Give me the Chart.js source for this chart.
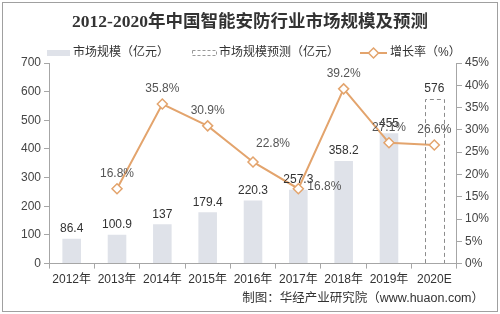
<!DOCTYPE html>
<html>
<head>
<meta charset="utf-8">
<script src="https://cdn.jsdelivr.net/npm/chart.js@4.4.1/dist/chart.umd.min.js"></script>
<style>
  html, body { margin: 0; padding: 0; background: #fff; }
  #grafico { display: block; }
</style>
</head>
<body>
<canvas id="grafico" width="500" height="314"></canvas>
<script>
const anos = ['2012年', '2013年', '2014年', '2015年', '2016年', '2017年', '2018年', '2019年', '2020E'];
const mercado = [86.4, 100.9, 137, 179.4, 220.3, 257.3, 358.2, 455, null];
const previsao = [null, null, null, null, null, null, null, null, 576];
const crescimento = [null, 16.8, 35.8, 30.9, 22.8, 16.8, 39.2, 27.1, 26.6];

const titulo = '2012-2020年中国智能安防行业市场规模及预测';
const legendas = ['市场规模（亿元）', '市场规模预测（亿元）', '增长率（%）'];
const fonte = '制图：华经产业研究院（www.huaon.com）';

const laranja = '#e3a46d';
const cinzaBarra = '#dfe2e9';
const textoFonte = '"Liberation Sans", "Noto Sans CJK SC", sans-serif';

const decoracao = {
  id: 'decoracao',
  beforeDraw(chart) {
    const ctx = chart.ctx;
    ctx.save();
    // moldura
    ctx.strokeStyle = '#a0a0a0';
    ctx.lineWidth = 1;
    ctx.strokeRect(2.5, 2.5, 495, 309);

    // titulo
    ctx.fillStyle = '#333';
    ctx.font = 'bold 17.5px "Liberation Serif", "Noto Sans CJK SC", serif';
    ctx.textAlign = 'center';
    ctx.textBaseline = 'middle';
    ctx.fillText(titulo, 250, 22);

    // legenda
    ctx.font = '12px ' + textoFonte;
    ctx.textAlign = 'left';
    ctx.fillStyle = cinzaBarra;
    ctx.fillRect(47, 50, 23, 6);
    ctx.fillStyle = '#333';
    ctx.fillText(legendas[0], 73, 53);

    ctx.setLineDash([3, 2]);
    ctx.strokeStyle = '#999';
    ctx.strokeRect(192.5, 50.5, 24, 5);
    ctx.setLineDash([]);
    ctx.fillText(legendas[1], 219, 53);

    ctx.strokeStyle = laranja;
    ctx.lineWidth = 2;
    ctx.beginPath();
    ctx.moveTo(360, 53);
    ctx.lineTo(387, 53);
    ctx.stroke();
    ctx.fillStyle = '#fff';
    ctx.beginPath();
    ctx.moveTo(373.5, 48);
    ctx.lineTo(378.5, 53);
    ctx.lineTo(373.5, 58);
    ctx.lineTo(368.5, 53);
    ctx.closePath();
    ctx.fill();
    ctx.lineWidth = 1.5;
    ctx.stroke();
    ctx.fillStyle = '#333';
    ctx.fillText(legendas[2], 390, 53);

    // fonte
    ctx.font = '12.5px ' + textoFonte;
    ctx.textAlign = 'right';
    ctx.fillText(fonte, 484, 299);
    ctx.restore();
  },
  afterDatasetsDraw(chart) {
    const ctx = chart.ctx;
    ctx.save();

    // barra prevista tracejada
    const metaPrev = chart.getDatasetMeta(1);
    metaPrev.data.forEach((el, i) => {
      if (previsao[i] == null) return;
      const p = el.getProps(['x', 'y', 'width', 'base'], true);
      ctx.setLineDash([4, 3]);
      ctx.strokeStyle = '#8c8c8c';
      ctx.lineWidth = 1;
      ctx.beginPath();
      ctx.moveTo(Math.round(p.x - p.width / 2) + 0.5, p.base);
      ctx.lineTo(Math.round(p.x - p.width / 2) + 0.5, Math.round(p.y) + 0.5);
      ctx.lineTo(Math.round(p.x + p.width / 2) + 0.5, Math.round(p.y) + 0.5);
      ctx.lineTo(Math.round(p.x + p.width / 2) + 0.5, p.base);
      ctx.stroke();
      ctx.setLineDash([]);
    });

    // rotulos das barras
    ctx.font = '12px ' + textoFonte;
    ctx.fillStyle = '#333';
    ctx.textAlign = 'center';
    ctx.textBaseline = 'bottom';
    [0, 1].forEach(d => {
      const valores = d === 0 ? mercado : previsao;
      chart.getDatasetMeta(d).data.forEach((el, i) => {
        if (valores[i] == null) return;
        ctx.fillText(String(valores[i]), el.x, el.y - 4);
      });
    });

    // rotulos do crescimento
    ctx.font = '12px ' + textoFonte;
    ctx.fillStyle = '#555';
    chart.getDatasetMeta(2).data.forEach((el, i) => {
      if (crescimento[i] == null) return;
      const txt = crescimento[i].toFixed(1) + '%';
      if (i === 5) {
        ctx.textAlign = 'left';
        ctx.textBaseline = 'middle';
        ctx.fillText(txt, el.x + 9, el.y - 2);
      } else if (i === 4) {
        ctx.textAlign = 'center';
        ctx.textBaseline = 'bottom';
        ctx.fillText(txt, el.x + 20, el.y - 12);
      } else {
        ctx.textAlign = 'center';
        ctx.textBaseline = 'bottom';
        ctx.fillText(txt, el.x, el.y - 9);
      }
    });
    ctx.restore();
  }
};

const ctx = document.getElementById('grafico').getContext('2d');
new Chart(ctx, {
  type: 'bar',
  data: {
    labels: anos,
    datasets: [
      {
        label: legendas[0],
        data: mercado,
        backgroundColor: cinzaBarra,
        grouped: false,
        barPercentage: 0.41,
        categoryPercentage: 1,
        yAxisID: 'y',
        order: 2
      },
      {
        label: legendas[1],
        data: previsao,
        backgroundColor: 'rgba(255,255,255,0)',
        grouped: false,
        barPercentage: 0.41,
        categoryPercentage: 1,
        yAxisID: 'y',
        order: 1
      },
      {
        type: 'line',
        label: legendas[2],
        data: crescimento,
        borderColor: laranja,
        borderWidth: 2,
        pointStyle: 'rectRot',
        pointRadius: 5,
        pointBackgroundColor: '#fff',
        pointBorderColor: laranja,
        pointBorderWidth: 1.5,
        tension: 0,
        yAxisID: 'y1',
        order: 0
      }
    ]
  },
  options: {
    responsive: false,
    animation: false,
    devicePixelRatio: 1,
    layout: { padding: { top: 63, bottom: 23, left: 18, right: 8 } },
    plugins: {
      legend: { display: false },
      title: { display: false },
      tooltip: { enabled: false }
    },
    scales: {
      x: {
        grid: { display: true, drawOnChartArea: false, offset: true, tickLength: 5, color: '#a6a6a6' },
        border: { color: '#a6a6a6' },
        ticks: { color: '#333', font: { family: textoFonte, size: 12 }, padding: 4, maxRotation: 0, minRotation: 0, autoSkip: false }
      },
      y: {
        position: 'left',
        min: 0,
        max: 700,
        grid: { drawOnChartArea: false, tickLength: 5, color: '#a6a6a6' },
        border: { color: '#a6a6a6' },
        ticks: { stepSize: 100, color: '#444', font: { family: textoFonte, size: 12 }, padding: 3 }
      },
      y1: {
        position: 'right',
        min: 0,
        max: 45,
        grid: { drawOnChartArea: false, tickLength: 5, color: '#a6a6a6' },
        border: { color: '#a6a6a6' },
        ticks: { stepSize: 5, color: '#444', font: { family: textoFonte, size: 12 }, padding: 3, callback: v => v + '%' }
      }
    }
  },
  plugins: [decoracao]
});
</script>
</body>
</html>
